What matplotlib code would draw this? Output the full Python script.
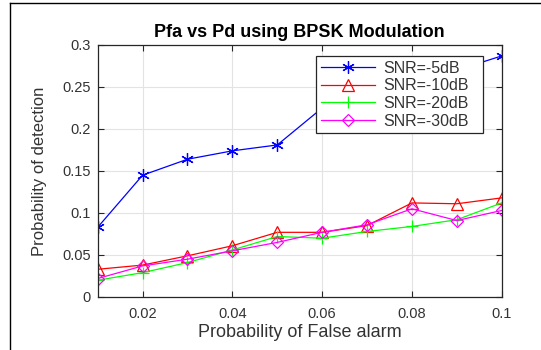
import matplotlib
matplotlib.use("Agg")
import matplotlib.pyplot as plt
from matplotlib.lines import Line2D

plt.rcParams['font.family'] = ['Liberation Sans', 'DejaVu Sans']

pfa = [0.01, 0.02, 0.03, 0.04, 0.05, 0.06, 0.07, 0.08, 0.09, 0.10]
pd_5 = [0.083, 0.145, 0.164, 0.174, 0.181, 0.225, 0.240, 0.255, 0.270, 0.287]
pd_10 = [0.033, 0.038, 0.049, 0.061, 0.077, 0.077, 0.085, 0.112, 0.111, 0.118]
pd_20 = [0.020, 0.029, 0.041, 0.056, 0.072, 0.070, 0.078, 0.084, 0.092, 0.112]
pd_30 = [0.022, 0.037, 0.045, 0.055, 0.065, 0.077, 0.086, 0.105, 0.091, 0.103]
labels = ['SNR=-5dB', 'SNR=-10dB', 'SNR=-20dB', 'SNR=-30dB']

fig = plt.figure(figsize=(5.41, 3.5), dpi=100)
ax = fig.add_axes([97.7 / 541, 1 - 297 / 350, 404 / 541, 252 / 350])

lw = 0.9
ax.plot(pfa, pd_5, color='#0000ff', marker=(6, 2, 0), ms=9, lw=lw, mew=0.9, label=labels[0])
ax.plot(pfa, pd_10, color='#ff0000', marker='^', ms=8, mfc='none', lw=lw, mew=0.9, label=labels[1])
ax.plot(pfa, pd_20, color='#00ff00', marker='+', ms=9, lw=lw, mew=0.9, label=labels[2])
ax.plot(pfa, pd_30, color='#ff00ff', marker='D', ms=6, mfc='none', lw=lw, mew=0.9, label=labels[3])

ax.set_xlim(0.01, 0.1)
ax.set_ylim(0, 0.3)
ax.set_xticks([0.02, 0.04, 0.06, 0.08, 0.1])
ax.set_xticklabels(['0.02', '0.04', '0.06', '0.08', '0.1'])
ax.set_yticks([0, 0.05, 0.1, 0.15, 0.2, 0.25, 0.3])
ax.set_yticklabels(['0', '0.05', '0.1', '0.15', '0.2', '0.25', '0.3'])
ax.grid(True, color='#e3e3e3', lw=0.8)
ax.set_axisbelow(True)
ax.tick_params(direction='in', top=True, right=True, labelsize=10.5,
               labelcolor='#333333', color='#262626', length=4)
ax.tick_params(axis='x', pad=7)
ax.tick_params(axis='y', pad=5)
for s in ax.spines.values():
    s.set_color('#262626')
    s.set_linewidth(0.9)

ax.set_title('Pfa vs Pd using BPSK Modulation', fontsize=13, fontweight='bold', pad=6)
ax.set_xlabel('Probability of False alarm', fontsize=13, color='#333333')
ax.set_ylabel('Probability of detection', fontsize=12, color='#333333')
ax.xaxis.set_label_coords(0.5, -0.108)
ax.yaxis.set_label_coords(-0.125, 0.5)

leg = ax.legend(loc='upper left', bbox_to_anchor=(0.540, 0.659, 0.414, 0.297), mode='expand',
                fontsize=11.5, frameon=True, fancybox=False, framealpha=1, edgecolor='#262626',
                handlelength=3.4, borderpad=0.3, labelspacing=0.16, handletextpad=0.5,
                borderaxespad=0)
leg.get_frame().set_linewidth(0.9)
for t in leg.get_texts():
    t.set_color('#333333')

# image border
fig.add_artist(Line2D([10 / 541, 1], [1 - 3 / 350, 1 - 3 / 350], color='black', lw=1))
fig.add_artist(Line2D([10 / 541, 10 / 541], [0, 1 - 3 / 350], color='black', lw=1))

fig.savefig('out.png', dpi=100)
